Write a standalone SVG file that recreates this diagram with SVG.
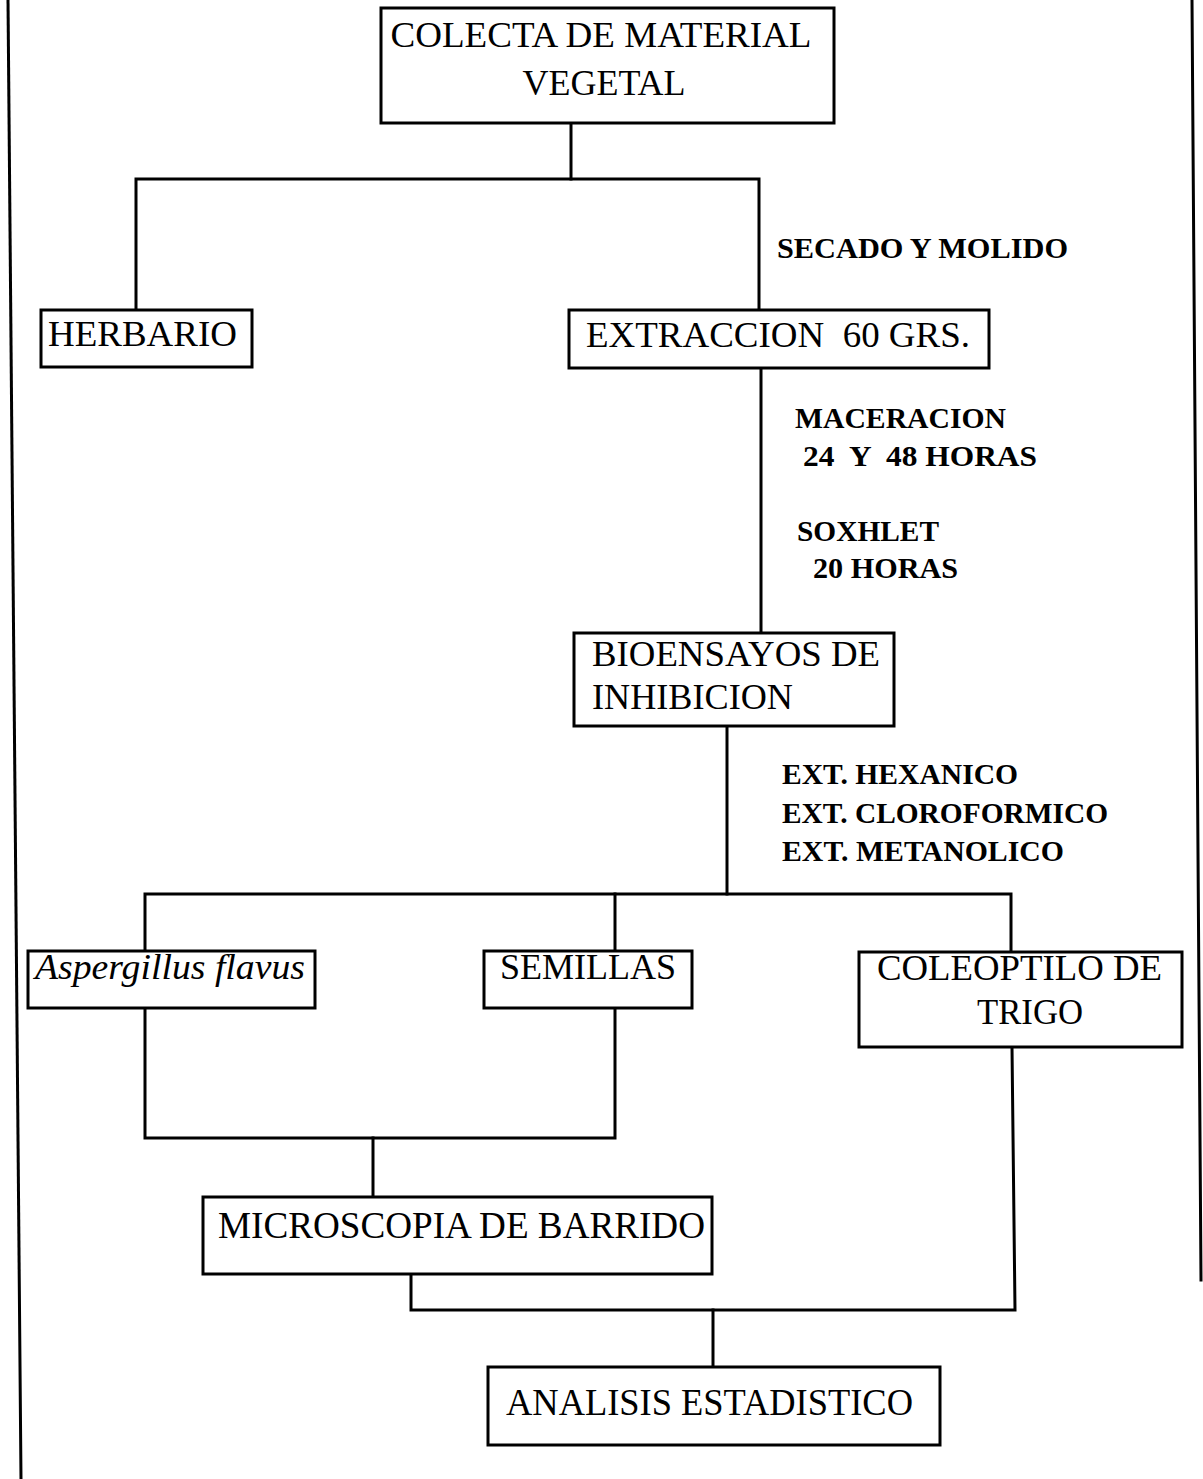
<svg xmlns="http://www.w3.org/2000/svg" width="1203" height="1479" viewBox="0 0 1203 1479">
<style>
.box{fill:#fff;stroke:#000;stroke-width:3}
.ln{fill:none;stroke:#000;stroke-width:3;stroke-linecap:square}
.t{font-family:"Liberation Serif","Times New Roman",serif;font-size:36px;fill:#000}
.big{font-size:38px}
.i{font-style:italic}
.lb{font-family:"Liberation Serif","Times New Roman",serif;font-size:30px;font-weight:bold;fill:#000}
</style>
<rect width="1203" height="1479" fill="#fff"/>
<g id="borders">
<line class="ln" x1="8" y1="0" x2="21" y2="1479"/>
<line class="ln" x1="1192" y1="0" x2="1201" y2="1280"/>
</g>
<g id="connectors">
<polyline class="ln" points="571,123 571,179"/>
<polyline class="ln" points="136,310 136,179 759,179 759,310"/>
<polyline class="ln" points="761,368 761,633"/>
<polyline class="ln" points="727,726 727,894"/>
<polyline class="ln" points="145,951 145,894 1011,894 1011,952"/>
<polyline class="ln" points="615,894 615,951"/>
<polyline class="ln" points="145,1008 145,1138 615,1138 615,1008"/>
<polyline class="ln" points="373,1138 373,1197"/>
<polyline class="ln" points="411,1274 411,1310 1015,1310 1012,1047"/>
<polyline class="ln" points="713,1310 713,1367"/>
</g>
<g id="labels">
<text class="lb" x="777" y="258" textLength="291" lengthAdjust="spacingAndGlyphs">SECADO Y MOLIDO</text>
<text class="lb" x="795" y="428" textLength="211" lengthAdjust="spacingAndGlyphs">MACERACION</text>
<text class="lb" x="803" y="466" textLength="234" lengthAdjust="spacingAndGlyphs" style="white-space:pre">24  Y  48 HORAS</text>
<text class="lb" x="797" y="541" textLength="142" lengthAdjust="spacingAndGlyphs">SOXHLET</text>
<text class="lb" x="813" y="578" textLength="145" lengthAdjust="spacingAndGlyphs">20 HORAS</text>
<text class="lb" x="782" y="784" textLength="236" lengthAdjust="spacingAndGlyphs">EXT. HEXANICO</text>
<text class="lb" x="782" y="823" textLength="326" lengthAdjust="spacingAndGlyphs">EXT. CLOROFORMICO</text>
<text class="lb" x="782" y="861" textLength="282" lengthAdjust="spacingAndGlyphs">EXT. METANOLICO</text>
</g>
<g id="colecta">
<rect class="box" x="381" y="8" width="453" height="115"/>
<text class="t" x="601" y="47" text-anchor="middle" textLength="421" lengthAdjust="spacingAndGlyphs">COLECTA DE MATERIAL</text>
<text class="t" x="604" y="95" text-anchor="middle">VEGETAL</text>
</g>
<g id="herbario">
<rect class="box" x="41" y="310" width="211" height="57"/>
<text class="t" x="48" y="346" textLength="189" lengthAdjust="spacingAndGlyphs">HERBARIO</text>
</g>
<g id="extraccion">
<rect class="box" x="569" y="310" width="420" height="58"/>
<text class="t" x="586" y="347" textLength="384" lengthAdjust="spacingAndGlyphs" style="white-space:pre">EXTRACCION  60 GRS.</text>
</g>
<g id="bioensayos">
<rect class="box" x="574" y="633" width="320" height="93"/>
<text class="t" x="592" y="666" textLength="288" lengthAdjust="spacingAndGlyphs">BIOENSAYOS DE</text>
<text class="t" x="592" y="709" textLength="201" lengthAdjust="spacingAndGlyphs">INHIBICION</text>
</g>
<g id="aspergillus">
<rect class="box" x="28" y="951" width="287" height="57"/>
<text class="t i" x="35" y="979" textLength="270" lengthAdjust="spacingAndGlyphs">Aspergillus flavus</text>
</g>
<g id="semillas">
<rect class="box" x="484" y="951" width="208" height="57"/>
<text class="t" x="500" y="979" textLength="176" lengthAdjust="spacingAndGlyphs">SEMILLAS</text>
</g>
<g id="coleoptilo">
<rect class="box" x="859" y="952" width="323" height="95"/>
<text class="t" x="877" y="980" textLength="285" lengthAdjust="spacingAndGlyphs">COLEOPTILO DE</text>
<text class="t" x="977" y="1024" textLength="106" lengthAdjust="spacingAndGlyphs">TRIGO</text>
</g>
<g id="microscopia">
<rect class="box" x="203" y="1197" width="509" height="77"/>
<text class="t big" x="218" y="1238" textLength="487" lengthAdjust="spacingAndGlyphs">MICROSCOPIA DE BARRIDO</text>
</g>
<g id="analisis">
<rect class="box" x="488" y="1367" width="452" height="78"/>
<text class="t big" x="506" y="1415" textLength="407" lengthAdjust="spacingAndGlyphs">ANALISIS ESTADISTICO</text>
</g>
</svg>
